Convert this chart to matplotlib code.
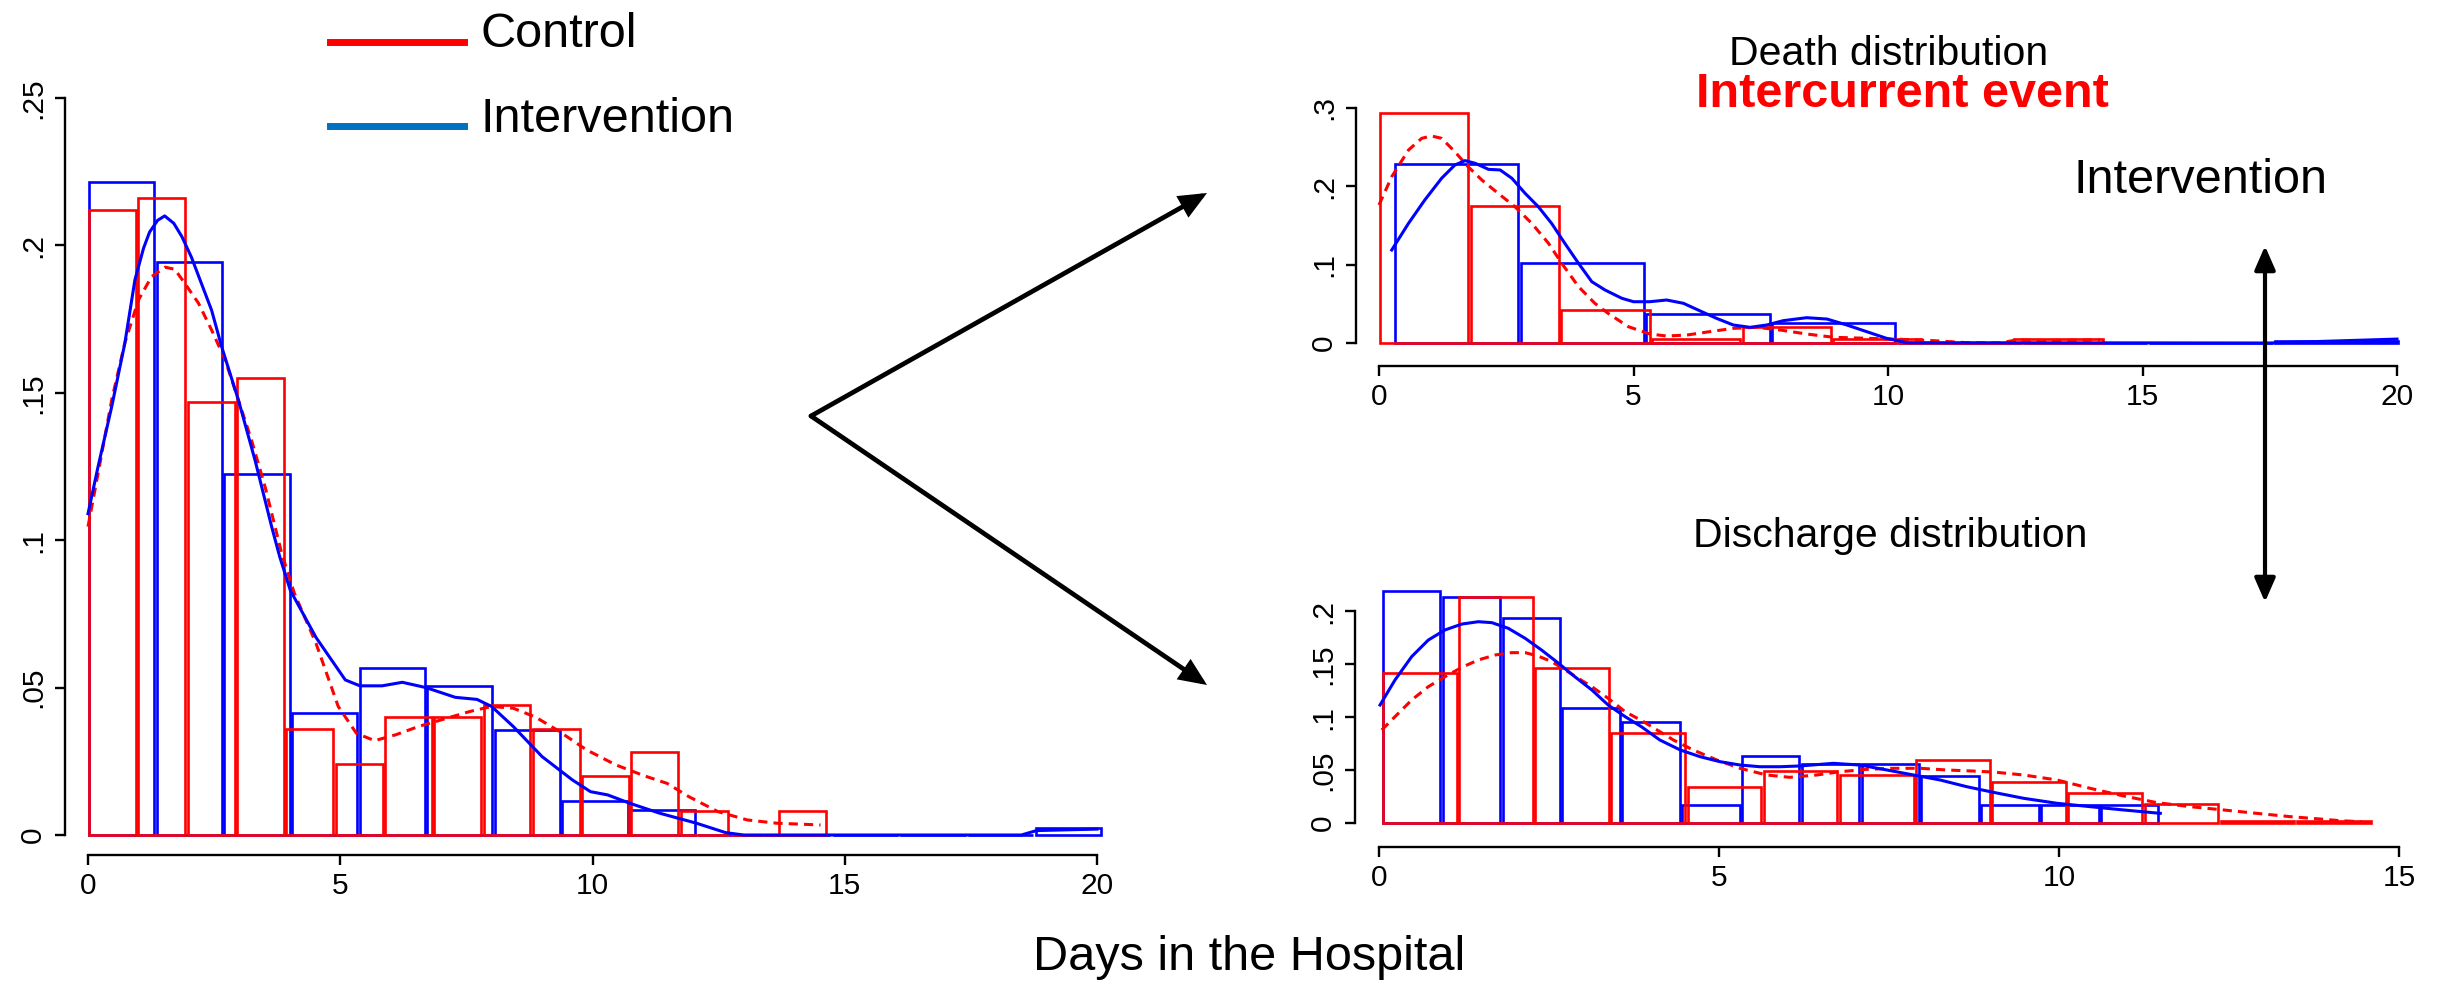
import matplotlib
matplotlib.use("Agg")
import matplotlib.pyplot as plt
from matplotlib.patches import Rectangle, FancyArrowPatch
from matplotlib.lines import Line2D

plt.rcParams['font.family'] = ['Liberation Sans', 'DejaVu Sans']

# ---------------- data ----------------
# Left panel: total length of stay
total_ctrl_start, total_ctrl_width = 0.0, 0.977
total_ctrl_heights = [0.212, 0.216, 0.147, 0.155, 0.036, 0.024, 0.040, 0.040,
                      0.044, 0.036, 0.020, 0.028, 0.008, 0.0, 0.008]
total_int_start, total_int_width = 0.0, 1.34
total_int_heights = [0.2215, 0.1944, 0.1225, 0.0414, 0.0566, 0.0506, 0.0355,
                     0.0115, 0.0085, 0.0, 0.0, 0.0, 0.0, 0.0, 0.0023]
total_int_kx = [0, 0.2, 0.47, 0.73, 0.93, 1.1, 1.22, 1.38, 1.52, 1.7, 1.86,
                2.05, 2.45, 2.65, 2.98, 3.31, 3.64, 3.8, 4.01, 4.52, 5.1, 5.39,
                5.83, 6.23, 6.7, 7.28, 7.71, 8.0, 8.43, 9.0, 9.6, 9.96, 10.3,
                10.75, 11.33, 12.06, 12.64, 13.0, 18.5, 18.8, 20.0]
total_int_ky = [0.109, 0.125, 0.1453, 0.1668, 0.1883, 0.199, 0.2045, 0.2085,
                0.210, 0.2075, 0.203, 0.196, 0.178, 0.1656, 0.1476, 0.1272,
                0.1046, 0.0944, 0.083, 0.067, 0.0526, 0.0506, 0.0506, 0.0518,
                0.050, 0.0467, 0.046, 0.0436, 0.0368, 0.0266, 0.0187, 0.0147,
                0.0136, 0.0107, 0.0074, 0.004, 0.0008, 0.0, 0.0, 0.0015, 0.002]
total_ctrl_kx = [0, 0.2, 0.47, 0.73, 1.0, 1.26, 1.53, 1.72, 1.92, 2.19, 2.45,
                 2.72, 2.98, 3.24, 3.51, 3.84, 4.09, 4.52, 4.96, 5.32, 5.68, 6.1,
                 6.55, 6.99, 7.57, 8.0, 8.43, 8.87, 9.3, 9.88, 10.46, 11.04,
                 11.48, 11.91, 12.49, 13.07, 13.65, 14.52]
total_ctrl_ky = [0.1046, 0.1227, 0.1476, 0.1669, 0.1815, 0.1894, 0.1926,
                 0.1919, 0.1871, 0.1804, 0.1713, 0.1611, 0.1476, 0.134, 0.1181,
                 0.0955, 0.082, 0.065, 0.0436, 0.0345, 0.032, 0.034, 0.0368,
                 0.039, 0.0419, 0.0436, 0.043, 0.040, 0.0356, 0.0289, 0.0238,
                 0.020, 0.0175, 0.013, 0.0079, 0.0051, 0.004, 0.0034]

# Top right: death distribution
death_ctrl_start, death_ctrl_width = 0.0, 1.78
death_ctrl_heights = [0.2936, 0.175, 0.0418, 0.0047, 0.020, 0.0055, 0.0, 0.0047]
death_int_start, death_int_width = 0.29, 2.47
death_int_heights = [0.228, 0.1016, 0.0366, 0.026, 0.0, 0.0, 0.0, 0.003]
death_int_kx = [0.25, 0.58, 0.90, 1.23, 1.49, 1.69, 1.89, 2.15, 2.38, 2.61,
                2.87, 3.13, 3.39, 3.65, 3.92, 4.18, 4.44, 4.77, 5.0, 5.32, 5.65,
                5.98, 6.31, 6.63, 6.96, 7.29, 7.62, 7.94, 8.4, 8.8, 9.19, 9.58,
                9.97, 10.37, 17.5, 20.0]
death_int_ky = [0.1187, 0.1528, 0.1826, 0.2103, 0.2272, 0.2328, 0.2294, 0.2217,
                0.2209, 0.2103, 0.1911, 0.174, 0.1528, 0.1273, 0.1017, 0.0783,
                0.0677, 0.0571, 0.0527, 0.0527, 0.0549, 0.0507, 0.0409, 0.0315,
                0.023, 0.020, 0.023, 0.0285, 0.0323, 0.0306, 0.023, 0.0145,
                0.006, 0.0004, 0.0, 0.005]
death_ctrl_kx = [0, 0.25, 0.58, 0.84, 1.03, 1.23, 1.49, 1.75, 2.02, 2.34, 2.67,
                 3.0, 3.33, 3.59, 3.92, 4.24, 4.5, 4.9, 5.32, 5.65, 6.05, 6.5,
                 6.96, 7.42, 7.88, 8.4, 8.93, 9.58, 10.24, 10.89, 11.55, 12.2,
                 12.53, 13.03, 14.17]
death_ctrl_ky = [0.1762, 0.2123, 0.2464, 0.2613, 0.2643, 0.2613, 0.2442,
                 0.2251, 0.2081, 0.1911, 0.174, 0.1528, 0.1273, 0.1017, 0.0719,
                 0.0507, 0.0379, 0.0208, 0.0115, 0.0089, 0.0102, 0.0145, 0.0187,
                 0.020, 0.0166, 0.0115, 0.0073, 0.006, 0.0047, 0.003, 0.0004,
                 0.0, 0.004, 0.003, 0.004]

# Bottom right: discharge distribution
dis_int_start, dis_int_width = 0.04, 0.88
dis_int_heights = [0.219, 0.213, 0.193, 0.1083, 0.0951, 0.0173, 0.0628, 0.0556,
                   0.0559, 0.044, 0.017, 0.017, 0.017]
dis_ctrl_start, dis_ctrl_width = 0.04, 1.12
dis_ctrl_heights = [0.1419, 0.2135, 0.1466, 0.0850, 0.0339, 0.0487, 0.0449,
                    0.0597, 0.039, 0.0286, 0.0179, 0.002, 0.002]
dis_int_kx = [0.015, 0.235, 0.48, 0.725, 0.97, 1.22, 1.46, 1.66, 1.9, 2.15,
              2.39, 2.64, 2.88, 3.13, 3.37, 3.62, 3.86, 4.13, 4.43, 4.72, 5.01,
              5.31, 5.6, 5.9, 6.19, 6.68, 7.07, 7.47, 7.86, 8.25, 8.64, 9.03,
              9.48, 9.97, 10.46, 10.95, 11.49]
dis_int_ky = [0.1113, 0.1349, 0.1569, 0.1726, 0.1821, 0.1877, 0.1899, 0.189,
              0.1837, 0.1742, 0.1632, 0.1507, 0.138, 0.1255, 0.1113, 0.1003,
              0.0908, 0.0783, 0.0689, 0.0626, 0.0579, 0.0547, 0.0531, 0.0531,
              0.0538, 0.0563, 0.0547, 0.050, 0.0453, 0.0406, 0.0343, 0.029,
              0.0233, 0.0186, 0.0154, 0.0123, 0.0091]
dis_ctrl_kx = [0.04, 0.235, 0.48, 0.725, 0.97, 1.22, 1.46, 1.71, 1.95, 2.15,
               2.34, 2.54, 2.74, 2.93, 3.13, 3.37, 3.62, 3.89, 4.33, 4.62, 4.97,
               5.31, 5.70, 6.04, 6.44, 6.78, 7.17, 7.56, 7.96, 8.35, 8.74, 9.05,
               9.48, 9.97, 10.46, 10.95, 11.44, 11.93, 12.42, 12.91, 13.4,
               13.89, 14.13, 14.45]
dis_ctrl_ky = [0.0877, 0.1003, 0.116, 0.1286, 0.138, 0.1469, 0.1538, 0.1585,
               0.1607, 0.1607, 0.1575, 0.1522, 0.1443, 0.1365, 0.1286, 0.1176,
               0.105, 0.0956, 0.0783, 0.0689, 0.0594, 0.0516, 0.0453, 0.0431,
               0.0453, 0.0484, 0.0506, 0.0516, 0.0516, 0.050, 0.049, 0.048,
               0.0453, 0.0406, 0.0327, 0.0255, 0.0192, 0.0154, 0.0123, 0.0091,
               0.006, 0.0035, 0.0022, 0.0012]

total_xticks = [0, 5, 10, 15, 20]
total_yticks = [0, 0.05, 0.1, 0.15, 0.2, 0.25]
total_ylabels = ["0", ".05", ".1", ".15", ".2", ".25"]
death_xticks = [0, 5, 10, 15, 20]
death_yticks = [0, 0.1, 0.2, 0.3]
death_ylabels = ["0", ".1", ".2", ".3"]
dis_xticks = [0, 5, 10, 15]
dis_yticks = [0, 0.05, 0.1, 0.15, 0.2]
dis_ylabels = ["0", ".05", ".1", ".15", ".2"]

RED = "#ff0000"
BLUE = "#0000ff"
LEG_BLUE = "#0070c0"

W, H = 2441, 984
fig = plt.figure(figsize=(W / 100, H / 100), dpi=100)


def panel(left, right, bottom, top, xr, yr, xticks, yticks, ylabels):
    (xv0, xp0), (xv1, xp1) = xr
    sx = (xp1 - xp0) / (xv1 - xv0)
    (yv0, yp0), (yv1, yp1) = yr
    sy = (yp0 - yp1) / (yv1 - yv0)
    ax = fig.add_axes([left / W, 1 - bottom / H, (right - left) / W,
                       (bottom - top) / H])
    ax.set_xlim(xv0 + (left - xp0) / sx, xv0 + (right - xp0) / sx)
    ax.set_ylim(yv0 + (yp0 - bottom) / sy, yv0 + (yp0 - top) / sy)
    ax.patch.set_alpha(0)
    ax.px_per_unit = sx
    for s in ("top", "right"):
        ax.spines[s].set_visible(False)
    for s in ("left", "bottom"):
        ax.spines[s].set_linewidth(1.7)
    ax.spines["left"].set_bounds(yticks[0], yticks[-1])
    ax.spines["bottom"].set_bounds(xticks[0], xticks[-1])
    ax.set_xticks(xticks)
    ax.set_xticklabels([str(t) for t in xticks])
    ax.set_yticks(yticks)
    ax.set_yticklabels(ylabels, rotation=90, va="center")
    ax.tick_params(direction="out", length=7, width=1.7, labelsize=21.5)
    ax.tick_params(axis="x", pad=5)
    ax.tick_params(axis="y", pad=6)
    return ax


def bars(ax, start, width, heights, color, gap_px=2.4):
    g = gap_px / ax.px_per_unit
    for i, h in enumerate(heights):
        ax.add_patch(Rectangle((start + i * width + g / 2, 0), width - g, h,
                               fill=False, edgecolor=color, linewidth=1.9,
                               joinstyle="miter", zorder=2))


def curves(ax, cx, cy, ix, iy):
    ax.plot(cx, cy, color=RED, lw=2.2, ls=(0, (3, 2.0)), zorder=3)
    ax.plot(ix, iy, color=BLUE, lw=2.2, zorder=4)


# Left panel
ax1 = panel(65, 1110, 855, 85, ((0, 88), (20, 1097)), ((0, 835), (0.25, 98)),
            total_xticks, total_yticks, total_ylabels)
bars(ax1, total_int_start, total_int_width, total_int_heights, BLUE)
bars(ax1, total_ctrl_start, total_ctrl_width, total_ctrl_heights, RED)
curves(ax1, total_ctrl_kx, total_ctrl_ky, total_int_kx, total_int_ky)

# Top right: death
ax2 = panel(1356, 2415, 366, 100, ((0, 1379), (20, 2397)), ((0, 343), (0.3, 108)),
            death_xticks, death_yticks, death_ylabels)
bars(ax2, death_int_start, death_int_width, death_int_heights, BLUE)
bars(ax2, death_ctrl_start, death_ctrl_width, death_ctrl_heights, RED)
curves(ax2, death_ctrl_kx, death_ctrl_ky, death_int_kx, death_int_ky)

# Bottom right: discharge
ax3 = panel(1355, 2415, 847, 590, ((0, 1379), (15, 2399)), ((0, 823), (0.2, 611)),
            dis_xticks, dis_yticks, dis_ylabels)
bars(ax3, dis_int_start, dis_int_width, dis_int_heights, BLUE)
bars(ax3, dis_ctrl_start, dis_ctrl_width, dis_ctrl_heights, RED)
curves(ax3, dis_ctrl_kx, dis_ctrl_ky, dis_int_kx, dis_int_ky)


def fx(px):
    return px / W


def fy(py):
    return 1 - py / H


# Legend
fig.add_artist(Line2D([fx(330), fx(464)], [fy(42), fy(42)], color=RED, lw=5))
fig.add_artist(Line2D([fx(330), fx(464)], [fy(126), fy(126)], color=LEG_BLUE, lw=5))
fig.text(fx(480), fy(47), "Control", fontsize=35, va="baseline", ha="left")
fig.text(fx(480), fy(132), "Intervention", fontsize=35, va="baseline", ha="left")

# Titles / annotations
fig.text(fx(1889), fy(65), "Death distribution", fontsize=29.5, ha="center", va="baseline")
fig.text(fx(1902), fy(107), "Intercurrent event", fontsize=35, fontweight="bold",
         color=RED, ha="center", va="baseline")
fig.text(fx(2200), fy(193), "Intervention", fontsize=35, ha="center", va="baseline")
fig.text(fx(1890), fy(547), "Discharge distribution", fontsize=29.5, ha="center", va="baseline")
fig.text(fx(1249), fy(970), "Days in the Hospital", fontsize=35, ha="center", va="baseline")

# Arrows
vx, vy = 811, 416
for ex, ey in [(1207, 193), (1207, 685)]:
    fig.add_artist(FancyArrowPatch((fx(vx), fy(vy)), (fx(ex), fy(ey)),
                                   transform=fig.transFigure,
                                   arrowstyle="-|>,head_length=0.8,head_width=0.35",
                                   mutation_scale=18, lw=3.4, color="black",
                                   shrinkA=0, shrinkB=0, joinstyle="miter",
                                   capstyle="round"))
fig.add_artist(FancyArrowPatch((fx(2265), fy(602)), (fx(2265), fy(246)),
                               transform=fig.transFigure,
                               arrowstyle="<|-|>,head_length=0.8,head_width=0.35",
                               mutation_scale=18, lw=3.0, color="black",
                               shrinkA=0, shrinkB=0))

fig.savefig("out.png", dpi=100)
